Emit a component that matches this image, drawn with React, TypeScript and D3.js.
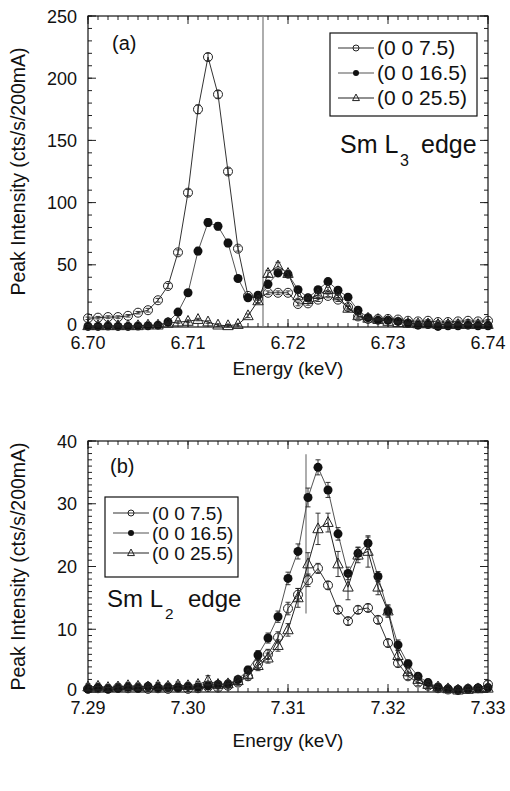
import React from "react";
import * as d3 from "d3";

const FONT = "'Liberation Sans', Arial, Helvetica, sans-serif";

// ---- Sm L3 edge scan (panel a) ----
const ENERGY_L3 = [
  6.700, 6.701, 6.702, 6.703, 6.704, 6.705, 6.706, 6.707, 6.708, 6.709,
  6.710, 6.711, 6.712, 6.713, 6.714, 6.715, 6.716, 6.717, 6.718, 6.719,
  6.720, 6.721, 6.722, 6.723, 6.724, 6.725, 6.726, 6.727, 6.728, 6.729,
  6.730, 6.731, 6.732, 6.733, 6.734, 6.735, 6.736, 6.737, 6.738, 6.739, 6.740,
];
const L3_A = [
  7, 7.5, 8, 8, 9, 11.5, 13.5, 21.5, 33, 60,
  108, 175, 217, 187, 125, 63, 25, 23, 27.5, 27.5,
  27.5, 18.5, 19, 22, 25, 22, 16, 8.5, 6.5, 6.5,
  6.5, 6, 5, 4.5, 5, 4, 4, 4.5, 5, 4.5, 5,
];
const L3_A_ERR = [
  1, 1, 1, 1, 1, 1, 1.5, 1.5, 2, 2,
  2.5, 3.5, 3, 3, 2.5, 2, 1.5, 1.5, 1.5, 1.5,
  1.5, 1.5, 1.5, 1.5, 1.5, 1.5, 1.5, 1.5, 1, 1,
  1, 1, 1, 1, 1, 1, 1, 1, 1, 1, 1,
];
const L3_B = [
  0.5, 0.5, 0.8, 0.5, 0.5, 0.8, 1, 1.5, 4, 12,
  27.5, 61, 84, 81, 67.5, 39, 23.5, 25.5, 34.5, 43.5,
  42.5, 30, 23.5, 30, 36.5, 29.5, 24, 13.5, 7.5, 5.5,
  5.5, 4.5, 3, 1.5, 2, 0.5, 1, 1, 1.5, 1, 1,
];
const L3_B_ERR = [
  1, 1, 1, 1, 1, 1, 1, 1, 1, 1.5,
  2, 3, 3, 3, 3, 2, 1.5, 1.5, 2, 3,
  2, 2, 1.5, 2, 2, 2, 1.5, 1.5, 1, 1,
  1, 1, 1, 1, 1, 1, 1, 1, 1, 1, 1,
];
const L3_C = [
  1, 1, 1, 1, 1, 1, 1.5, 1.5, 3, 4,
  4.5, 6, 4, 1.5, 1, 2, 9, 21, 43, 49,
  43, 25, 22, 26, 30, 25, 15, 9, 7, 6,
  4.5, 3.5, 3, 2.5, 2.5, 2, 2, 2, 2, 2, 2,
];
const L3_C_ERR = [
  1, 1, 1, 1, 1, 1, 1, 1, 1, 1,
  1, 1, 1, 1, 1, 1, 1.5, 2, 2.5, 3,
  2.5, 2, 1.5, 2, 2, 1.5, 1.5, 1, 1, 1,
  1, 1, 1, 1, 1, 1, 1, 1, 1, 1, 1,
];

// ---- Sm L2 edge scan (panel b) ----
const ENERGY_L2 = [
  7.290, 7.291, 7.292, 7.293, 7.294, 7.295, 7.296, 7.297, 7.298, 7.299,
  7.300, 7.301, 7.302, 7.303, 7.304, 7.305, 7.306, 7.307, 7.308, 7.309,
  7.310, 7.311, 7.312, 7.313, 7.314, 7.315, 7.316, 7.317, 7.318, 7.319,
  7.320, 7.321, 7.322, 7.323, 7.324, 7.325, 7.326, 7.327, 7.328, 7.329, 7.330,
];
const L2_A = [
  0.5, 0.6, 0.5, 0.7, 0.6, 0.7, 0.5, 0.6, 0.5, 0.7,
  0.5, 0.6, 0.8, 0.7, 1.0, 1.5, 2.5, 4.5, 6, 8.7,
  13.3, 15.5, 17.8, 19.7, 17, 13.1, 11.3, 13.1, 13.4, 11.5,
  7.8, 4.6, 2.5, 1.5, 1, 0.6, 0.4, 0.3, 0.5, 0.6, 1.2,
];
const L2_A_ERR = [
  0.4, 0.4, 0.4, 0.4, 0.4, 0.4, 0.4, 0.4, 0.4, 0.4,
  0.4, 0.4, 0.4, 0.4, 0.5, 0.5, 0.6, 0.7, 0.8, 0.9,
  1, 1, 1, 0.8, 0.6, 0.6, 0.6, 0.6, 0.6, 0.6,
  0.6, 0.6, 0.5, 0.5, 0.5, 0.4, 0.4, 0.4, 0.4, 0.4, 0.6,
];
const L2_B = [
  0.5, 0.7, 0.5, 0.6, 0.8, 0.6, 0.9, 0.7, 0.8, 0.7,
  0.9, 0.8, 1.0, 1.2, 1.3, 2, 3.5, 5.9, 8.6, 12,
  18.1, 22.4, 31, 35.8, 32.2, 25.2, 18.9, 22.1, 23.7, 18.4,
  12.9, 7.5, 4.5, 2.5, 1.5, 0.8, 0.5, 0.4, 0.5, 0.6, 0.7,
];
const L2_B_ERR = [
  0.4, 0.4, 0.4, 0.4, 0.4, 0.4, 0.4, 0.4, 0.4, 0.4,
  0.4, 0.4, 0.5, 0.5, 0.5, 0.5, 0.6, 0.7, 0.8, 0.9,
  1, 1.2, 1.5, 1.2, 1.2, 1, 1, 1, 1, 0.8,
  0.8, 0.8, 0.6, 0.5, 0.5, 0.4, 0.4, 0.4, 0.4, 0.4, 0.4,
];
const L2_C = [
  0.8, 0.9, 0.7, 0.8, 1.0, 0.9, 0.8, 1.0, 0.9, 1.1,
  1.0, 1.2, 1.8, 1.2, 1.3, 1.8, 2.8, 4.2, 5.4, 7.4,
  9.9, 15, 20.4, 26, 27, 20.4, 16.7, 21.8, 22.4, 16.7,
  12.9, 5.8, 3.2, 2, 1.2, 0.8, 0.5, 0.3, 0.4, 0.5, 0.6,
];
const L2_C_ERR = [
  0.5, 0.5, 0.5, 0.5, 0.5, 0.5, 0.5, 0.5, 0.5, 0.5,
  0.5, 0.5, 0.8, 0.5, 0.5, 0.6, 0.7, 0.8, 0.8, 0.9,
  1, 1.5, 1.8, 2.5, 1.5, 2, 2, 1.2, 2.5, 1.2,
  1, 0.8, 0.6, 0.5, 0.5, 0.5, 0.5, 0.5, 0.5, 0.5, 0.5,
];

const LEGEND_LABELS = ["(0 0 7.5)", "(0 0 16.5)", "(0 0 25.5)"];
const MARKERS = ["open", "filled", "triangle"];
const LINE_COLORS = ["#333", "#555", "#222"];

const X_TICKS_L3 = [6.70, 6.71, 6.72, 6.73, 6.74];
const Y_TICKS_L3 = [0, 50, 100, 150, 200, 250];
const X_TICKS_L2 = [7.29, 7.30, 7.31, 7.32, 7.33];
const Y_TICKS_L2 = [0, 10, 20, 30, 40];

type Series = { values: number[]; errors: number[] };

function Marker({ kind, x, y, r }: { kind: string; x: number; y: number; r: number }) {
  if (kind === "filled") return <circle cx={x} cy={y} r={r} fill="#111" />;
  if (kind === "open")
    return <circle cx={x} cy={y} r={r} fill="none" stroke="#222" strokeWidth={1} />;
  const s = r * 1.15;
  const d = `M${x},${y - s * 1.15}L${x + s},${y + s * 0.75}L${x - s},${y + s * 0.75}Z`;
  return <path d={d} fill="none" stroke="#222" strokeWidth={1} />;
}

type PanelProps = {
  left: number;
  right: number;
  top: number;
  bottom: number;
  energies: number[];
  series: Series[];
  xDomain: [number, number];
  yDomain: [number, number];
  xTicks: number[];
  yTicks: number[];
  xMinorStep: number;
  yMinorStep: number;
  titleOffset: number;
  vline: { x: number; y0: number; y1: number };
  tag: string;
  tagPos: [number, number];
  edge: { sub: string; x: number; y: number; size: number; subX: number; subDy: number; edgeX: number };
  legend: { x: number; y: number; w: number; h: number; rows: number[]; fontSize: number };
};

function Panel(p: PanelProps) {
  const x = d3.scaleLinear().domain(p.xDomain).range([p.left, p.right]);
  const y = d3.scaleLinear().domain(p.yDomain).range([p.bottom, p.top]);
  const line = d3
    .line<number>()
    .x((_, i) => x(p.energies[i]))
    .y((v) => y(v));

  const xMinor = d3.range(p.xDomain[0], p.xDomain[1] + p.xMinorStep / 2, p.xMinorStep);
  const yMinor = d3.range(p.yDomain[0], p.yDomain[1] + p.yMinorStep / 2, p.yMinorStep);
  const major = 8;
  const minor = 4;
  const tickColor = "#222";

  return (
    <g fontFamily={FONT}>
      {/* minor ticks on all four sides, pointing inward */}
      {xMinor.map((t, i) => (
        <g key={`xm${i}`} stroke={tickColor} strokeWidth={1}>
          <line x1={x(t)} x2={x(t)} y1={p.bottom} y2={p.bottom - minor} />
          <line x1={x(t)} x2={x(t)} y1={p.top} y2={p.top + minor} />
        </g>
      ))}
      {yMinor.map((t, i) => (
        <g key={`ym${i}`} stroke={tickColor} strokeWidth={1}>
          <line x1={p.left} x2={p.left + minor} y1={y(t)} y2={y(t)} />
          <line x1={p.right} x2={p.right - minor} y1={y(t)} y2={y(t)} />
        </g>
      ))}
      {p.xTicks.map((t, i) => (
        <g key={`xM${i}`}>
          <line x1={x(t)} x2={x(t)} y1={p.bottom} y2={p.bottom - major} stroke={tickColor} />
          <line x1={x(t)} x2={x(t)} y1={p.top} y2={p.top + major} stroke={tickColor} />
          <text x={x(t)} y={p.bottom + 22} textAnchor="middle" fontSize={18} fill="#111">
            {d3.format(".2f")(t)}
          </text>
        </g>
      ))}
      {p.yTicks.map((t, i) => (
        <g key={`yM${i}`}>
          <line x1={p.left} x2={p.left + major} y1={y(t)} y2={y(t)} stroke={tickColor} />
          <line x1={p.right} x2={p.right - major} y1={y(t)} y2={y(t)} stroke={tickColor} />
          <text x={p.left - 11} y={y(t) + (t === 0 ? 4 : 6.5)} textAnchor="end" fontSize={18} fill="#111">
            {t}
          </text>
        </g>
      ))}
      <rect
        x={p.left}
        y={p.top}
        width={p.right - p.left}
        height={p.bottom - p.top}
        fill="none"
        stroke="#111"
        strokeWidth={1.2}
      />

      {/* axis titles */}
      <text
        x={(p.left + p.right) / 2}
        y={p.bottom + p.titleOffset}
        textAnchor="middle"
        fontSize={19}
        fill="#111"
      >
        Energy (keV)
      </text>
      <text
        transform={`translate(25,${(p.top + p.bottom) / 2}) rotate(-90)`}
        textAnchor="middle"
        fontSize={19.5}
        fill="#111"
      >
        Peak Intensity (cts/s/200mA)
      </text>

      {/* reference energy */}
      <line
        x1={x(p.vline.x)}
        x2={x(p.vline.x)}
        y1={y(p.vline.y1)}
        y2={y(p.vline.y0)}
        stroke="#777"
        strokeWidth={1.2}
      />

      {/* data */}
      {p.series.map((s, si) => (
        <g key={`s${si}`}>
          <path d={line(s.values) || ""} fill="none" stroke={LINE_COLORS[si]} strokeWidth={1} />
          {s.values.map((v, i) => {
            const cx = x(p.energies[i]);
            const lo = y(v - s.errors[i]);
            const hi = y(v + s.errors[i]);
            return (
              <g key={`e${i}`} stroke="#222" strokeWidth={0.9}>
                <line x1={cx} x2={cx} y1={lo} y2={hi} />
                <line x1={cx - 2.5} x2={cx + 2.5} y1={lo} y2={lo} />
                <line x1={cx - 2.5} x2={cx + 2.5} y1={hi} y2={hi} />
              </g>
            );
          })}
          {s.values.map((v, i) => (
            <Marker key={`m${i}`} kind={MARKERS[si]} x={x(p.energies[i])} y={y(v)} r={4.5} />
          ))}
        </g>
      ))}

      {/* panel tag */}
      <text x={p.tagPos[0]} y={p.tagPos[1]} fontSize={20} fill="#111">
        {p.tag}
      </text>

      {/* edge label */}
      <g fill="#111">
        <text x={p.edge.x} y={p.edge.y} fontSize={p.edge.size}>
          Sm L
        </text>
        <text x={p.edge.subX} y={p.edge.y + p.edge.subDy} fontSize={p.edge.size * 0.64}>
          {p.edge.sub}
        </text>
        <text x={p.edge.edgeX} y={p.edge.y} fontSize={p.edge.size}>
          edge
        </text>
      </g>

      {/* legend */}
      <rect
        x={p.legend.x}
        y={p.legend.y}
        width={p.legend.w}
        height={p.legend.h}
        fill="#fff"
        stroke="#111"
        strokeWidth={1.2}
      />
      {LEGEND_LABELS.map((lab, i) => {
        const ry = p.legend.rows[i];
        const lx0 = p.legend.x + 8;
        const lx1 = lx0 + 36;
        return (
          <g key={`lg${i}`}>
            <line x1={lx0} x2={lx1} y1={ry} y2={ry} stroke={LINE_COLORS[i]} strokeWidth={1.2} />
            <Marker kind={MARKERS[i]} x={(lx0 + lx1) / 2} y={ry} r={3} />
            <text x={lx1 + 3} y={ry + 7} fontSize={p.legend.fontSize} fill="#111">
              {lab}
            </text>
          </g>
        );
      })}
    </g>
  );
}

export default function App() {
  const seriesL3: Series[] = [
    { values: L3_A, errors: L3_A_ERR },
    { values: L3_B, errors: L3_B_ERR },
    { values: L3_C, errors: L3_C_ERR },
  ];
  const seriesL2: Series[] = [
    { values: L2_A, errors: L2_A_ERR },
    { values: L2_B, errors: L2_B_ERR },
    { values: L2_C, errors: L2_C_ERR },
  ];
  return (
    <svg
      width={510}
      height={791}
      viewBox="0 0 510 791"
      style={{ position: "absolute", left: 0, top: 0, background: "#fff" }}
    >
      <rect x={0} y={0} width={510} height={791} fill="#fff" />
      <Panel
        left={88}
        right={488}
        top={16}
        bottom={327}
        energies={ENERGY_L3}
        series={seriesL3}
        xDomain={[6.7, 6.74]}
        yDomain={[0, 250]}
        xTicks={X_TICKS_L3}
        yTicks={Y_TICKS_L3}
        xMinorStep={0.001}
        yMinorStep={10}
        titleOffset={48}
        vline={{ x: 6.7175, y0: 0, y1: 250 }}
        tag="(a)"
        tagPos={[112, 50]}
        edge={{ sub: "3", x: 340, y: 153, size: 25, subX: 400, subDy: 13, edgeX: 421 }}
        legend={{ x: 330, y: 33, w: 147, h: 83, rows: [48, 73, 98], fontSize: 21 }}
      />
      <Panel
        left={88}
        right={488}
        top={441}
        bottom={692}
        energies={ENERGY_L2}
        series={seriesL2}
        xDomain={[7.29, 7.33]}
        yDomain={[0, 40]}
        xTicks={X_TICKS_L2}
        yTicks={Y_TICKS_L2}
        xMinorStep={0.001}
        yMinorStep={1}
        titleOffset={55}
        vline={{ x: 7.3118, y0: 12.5, y1: 37.9 }}
        tag="(b)"
        tagPos={[110, 473]}
        edge={{ sub: "2", x: 107, y: 607, size: 24, subX: 165, subDy: 12, edgeX: 188 }}
        legend={{ x: 105, y: 497, w: 133, h: 80, rows: [513, 533, 553], fontSize: 19 }}
      />
    </svg>
  );
}
